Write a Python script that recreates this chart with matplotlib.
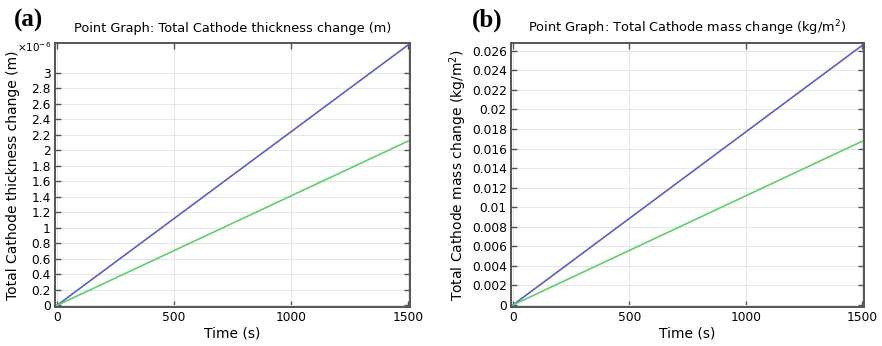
import numpy as np
import matplotlib
matplotlib.use("Agg")
import matplotlib.pyplot as plt

# data (end points of linear growth)
time = [0, 1500]
thick_blue = [0, 3.36]      # x1e-6 m
thick_green = [0, 2.12]
mass_blue = [0, 0.02655]    # kg/m^2
mass_green = [0, 0.01675]

blue = "#5b5fc6"
green = "#5fd06c"

plt.rcParams['font.family'] = ['DejaVu Sans']

fig = plt.figure(figsize=(8.82, 3.46), dpi=100)
ax1 = fig.add_axes([55/882, 1-307/346, 355/882, 264/346])
ax2 = fig.add_axes([511/882, 1-307/346, 353/882, 264/346])


def style(ax):
    ax.grid(True, color="#e6e6e6", linewidth=0.7)
    ax.tick_params(direction="in", top=True, right=True, length=4,
                   labelsize=8.8, color="#555555", width=1, pad=3)
    for s in ax.spines.values():
        s.set_color("#555555")
        s.set_linewidth(1.4)
    ax.set_xlim(-8, 1508)
    ax.set_xticks([0, 500, 1000, 1500])
    ax.set_xlabel("Time (s)", fontsize=10, labelpad=2)


ax1.plot(time, thick_blue, color=blue, lw=1.2)
ax1.plot(time, thick_green, color=green, lw=1.2)
style(ax1)
ax1.set_ylim(-0.02, 3.385)
yt = np.round(np.arange(0, 3.01, 0.2), 1)
ax1.set_yticks(yt)
ax1.set_yticklabels([("%g" % v) for v in yt])
ax1.set_ylabel("Total Cathode thickness change (m)", fontsize=10)
ax1.yaxis.set_label_coords(-0.098, 0.5)
ax1.set_title("Point Graph: Total Cathode thickness change (m)", fontsize=9.3, pad=8)
fig.text(51/882, 1-47/346, r"$\times$10$^{-6}$", fontsize=7.5,
         ha="right", va="center")
fig.text(14/882, 1-20/346, "(a)", fontsize=18, fontweight="bold",
         family="Liberation Serif", va="center")

ax2.plot(time, mass_blue, color=blue, lw=1.2)
ax2.plot(time, mass_green, color=green, lw=1.2)
style(ax2)
ax2.set_ylim(-0.0002, 0.0268)
yt2 = np.round(np.arange(0, 0.0261, 0.002), 3)
ax2.set_yticks(yt2)
ax2.set_yticklabels([("%g" % v) for v in yt2])
ax2.set_ylabel("Total Cathode mass change (kg/m$^2$)", fontsize=10, labelpad=2)
ax2.set_title("Point Graph: Total Cathode mass change (kg/m$^2$)", fontsize=9.3, pad=8)
fig.text(472/882, 1-20/346, "(b)", fontsize=18, fontweight="bold",
         family="Liberation Serif", va="center")

fig.savefig("out.png", dpi=100)
